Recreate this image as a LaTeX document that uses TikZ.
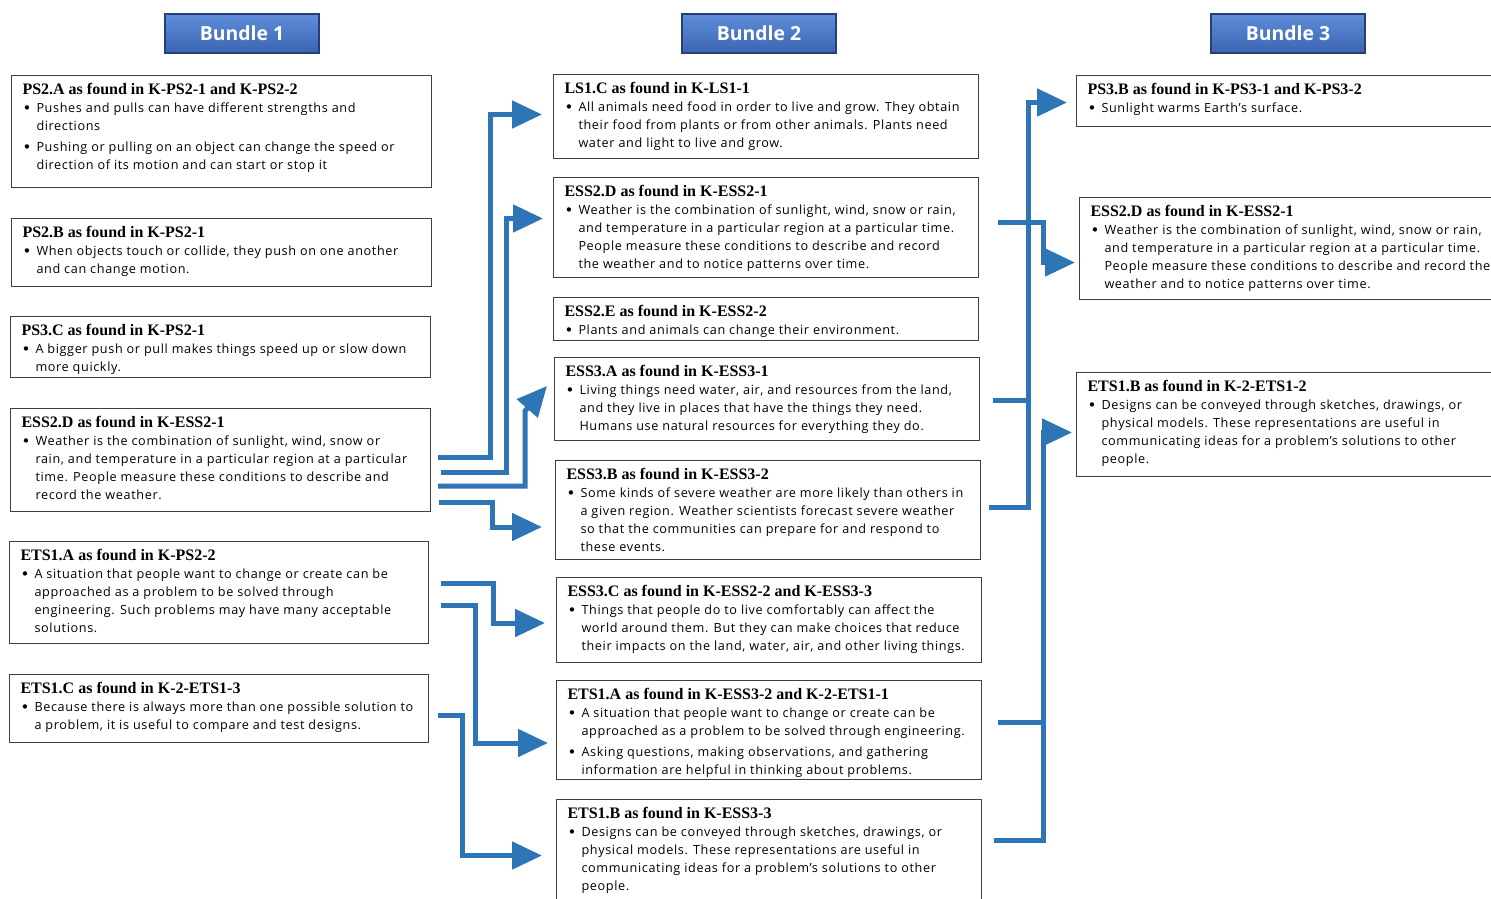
\documentclass[tikz,border=0pt]{standalone}
\usepackage{fontspec}
\newfontfamily\bodyfont[LetterSpace=5]{Open Sans}
\newfontfamily\bundlefont{Open Sans}
\newfontfamily\headfont{Liberation Serif}
\newfontfamily\bulfont{DejaVu Sans}
\usetikzlibrary{arrows.meta}
\usetikzlibrary{calc}
\definecolor{arrowblue}{RGB}{46,117,182}
\definecolor{bundletop}{RGB}{96,142,218}
\definecolor{bundlebot}{RGB}{58,100,178}
\definecolor{bundleedge}{RGB}{38,64,118}

% one box: heading, then bullet lines that never wrap
\newcommand{\bhead}[1]{\noindent\rlap{\headfont\bfseries\fontsize{16}{18}\selectfont #1}\par}
\newcommand{\bfirst}[1]{\noindent\makebox[14pt][l]{\bulfont\fontsize{15}{15}\selectfont\raisebox{-0.8pt}{•}}\rlap{#1}\par}
\newcommand{\bnext}[1]{\noindent\hspace*{14pt}\rlap{#1}\par}
\newcommand{\cell}[3]{\parbox[t][\dimexpr#2pt-16pt\relax][t]{\dimexpr#1pt-22pt\relax}{\bodyfont\fontsize{12.65}{18}\selectfont\parskip=0pt #3}}

\begin{document}
\begin{tikzpicture}[x=1pt,y=-1pt,
	box/.style={draw=black!75, line width=1pt, anchor=north west, inner xsep=11pt, inner ysep=8pt},
	bundle/.style={draw=bundleedge, line width=1.5pt, top color=bundletop, bottom color=bundlebot,
		minimum width=154pt, minimum height=39pt, inner sep=0pt, text=white,
		font=\bundlefont\bfseries\fontsize{19.4}{20}\selectfont},
	flow/.style={draw=arrowblue, line width=5pt, -{Triangle[length=30pt,width=27pt]}}]
	\useasboundingbox (0,0) rectangle (1491,899);
	\clip (0,0) rectangle (1491,899);

	% headers
	\node[bundle] (hd1) at (242,33.5) {Bundle 1};
	\node[bundle] (hd2) at (759,33.5) {Bundle 2};
	\node[bundle] (hd3) at (1288,33.5) {Bundle 3};

	% bundle 1
	\node[box] (b1ps2a) at (11,75) {\cell{420}{112}{%
		\bhead{PS2.A as found in K-PS2-1 and K-PS2-2}
		\bfirst{Pushes and pulls can have different strengths and}
		\bnext{directions}
		\vspace{3pt}
		\bfirst{Pushing or pulling on an object can change the speed or}
		\bnext{direction of its motion and can start or stop it}}};
	\node[box] (b1ps2b) at (11,218) {\cell{420}{68}{%
		\bhead{PS2.B as found in K-PS2-1}
		\bfirst{When objects touch or collide, they push on one another}
		\bnext{and can change motion.}}};
	\node[box] (b1ps3c) at (10,316) {\cell{420}{61}{%
		\bhead{PS3.C as found in K-PS2-1}
		\bfirst{A bigger push or pull makes things speed up or slow down}
		\bnext{more quickly.}}};
	\node[box] (b1ess2d) at (10,408) {\cell{420}{103}{%
		\bhead{ESS2.D as found in K-ESS2-1}
		\bfirst{Weather is the combination of sunlight, wind, snow or}
		\bnext{rain, and temperature in a particular region at a particular}
		\bnext{time. People measure these conditions to describe and}
		\bnext{record the weather.}}};
	\node[box] (b1ets1a) at (9,541) {\cell{419}{102}{%
		\bhead{ETS1.A as found in K-PS2-2}
		\bfirst{A situation that people want to change or create can be}
		\bnext{approached as a problem to be solved through}
		\bnext{engineering. Such problems may have many acceptable}
		\bnext{solutions.}}};
	\node[box] (b1ets1c) at (9,674) {\cell{419}{68}{%
		\bhead{ETS1.C as found in K-2-ETS1-3}
		\bfirst{Because there is always more than one possible solution to}
		\bnext{a problem, it is useful to compare and test designs.}}};

	% bundle 2
	\node[box] (b2ls1c) at (553,74) {\cell{425}{84}{%
		\bhead{LS1.C as found in K-LS1-1}
		\bfirst{All animals need food in order to live and grow. They obtain}
		\bnext{their food from plants or from other animals. Plants need}
		\bnext{water and light to live and grow.}}};
	\node[box] (b2ess2d) at (553,177) {\cell{425}{100}{%
		\bhead{ESS2.D as found in K-ESS2-1}
		\bfirst{Weather is the combination of sunlight, wind, snow or rain,}
		\bnext{and temperature in a particular region at a particular time.}
		\bnext{People measure these conditions to describe and record}
		\bnext{the weather and to notice patterns over time.}}};
	\node[box] (b2ess2e) at (553,297) {\cell{425}{43}{%
		\bhead{ESS2.E as found in K-ESS2-2}
		\bfirst{Plants and animals can change their environment.}}};
	\node[box] (b2ess3a) at (554,357) {\cell{425}{83}{%
		\bhead{ESS3.A as found in K-ESS3-1}
		\bfirst{Living things need water, air, and resources from the land,}
		\bnext{and they live in places that have the things they need.}
		\bnext{Humans use natural resources for everything they do.}}};
	\node[box] (b2ess3b) at (555,460) {\cell{425}{99}{%
		\bhead{ESS3.B as found in K-ESS3-2}
		\bfirst{Some kinds of severe weather are more likely than others in}
		\bnext{a given region. Weather scientists forecast severe weather}
		\bnext{so that the communities can prepare for and respond to}
		\bnext{these events.}}};
	\node[box] (b2ess3c) at (556,577) {\cell{425}{85}{%
		\bhead{ESS3.C as found in K-ESS2-2 and K-ESS3-3}
		\bfirst{Things that people do to live comfortably can affect the}
		\bnext{world around them. But they can make choices that reduce}
		\bnext{their impacts on the land, water, air, and other living things.}}};
	\node[box] (b2ets1a) at (556,680) {\cell{425}{99}{%
		\bhead{ETS1.A as found in K-ESS3-2 and K-2-ETS1-1}
		\bfirst{A situation that people want to change or create can be}
		\bnext{approached as a problem to be solved through engineering.}
		\vspace{3pt}
		\bfirst{Asking questions, making observations, and gathering}
		\bnext{information are helpful in thinking about problems.}}};
	\node[box] (b2ets1b) at (556,799) {\cell{425}{110}{%
		\bhead{ETS1.B as found in K-ESS3-3}
		\bfirst{Designs can be conveyed through sketches, drawings, or}
		\bnext{physical models. These representations are useful in}
		\bnext{communicating ideas for a problem’s solutions to other}
		\bnext{people.}}};

	% bundle 3
	\node[box] (b3ps3b) at (1076,75) {\cell{430}{51}{%
		\bhead{PS3.B as found in K-PS3-1 and K-PS3-2}
		\bfirst{Sunlight warms Earth’s surface.}}};
	\node[box] (b3ess2d) at (1079,197) {\cell{430}{102}{%
		\bhead{ESS2.D as found in K-ESS2-1}
		\bfirst{Weather is the combination of sunlight, wind, snow or rain,}
		\bnext{and temperature in a particular region at a particular time.}
		\bnext{People measure these conditions to describe and record the}
		\bnext{weather and to notice patterns over time.}}};
	\node[box] (b3ets1b) at (1076,372) {\cell{430}{104}{%
		\bhead{ETS1.B as found in K-2-ETS1-2}
		\bfirst{Designs can be conveyed through sketches, drawings, or}
		\bnext{physical models. These representations are useful in}
		\bnext{communicating ideas for a problem’s solutions to other}
		\bnext{people.}}};

	% bundle 1 to bundle 2
	\draw[flow] ($(b1ess2d.east)+(7,-3)$) -| ($(b2ls1c.west)+(-63,-2)$) -- ($(b2ls1c.west)+(-11,-2)$);
	\draw[flow] ($(b1ess2d.east)+(10,12)$) -| ($(b2ess2d.west)+(-47,-9)$) -- ($(b2ess2d.west)+(-10,-9)$);
	\draw[flow] ($(b1ess2d.east)+(7,26)$) -| ($(b2ess3a.west)+(-29,12)$) -- ($(b2ess3a.west)+(-7,-13)$);
	\draw[flow] ($(b1ess2d.east)+(8,42)$) -| ($(b2ess3b.west)+(-63,17)$) -- ($(b2ess3b.west)+(-13,17)$);
	\draw[flow] ($(b1ets1a.east)+(12,-9)$) -| ($(b2ess3c.west)+(-63,3)$) -- ($(b2ess3c.west)+(-11,3)$);
	\draw[flow] ($(b1ets1a.east)+(12,13)$) -| ($(b2ets1a.west)+(-81,13)$) -- ($(b2ets1a.west)+(-8,13)$);
	\draw[flow] ($(b1ets1c.east)+(9,7)$) -| ($(b2ets1b.west)+(-94,1)$) -- ($(b2ets1b.west)+(-14,1)$);

	% bundle 2 to bundle 3
	\coordinate (trunkA) at ($(b3ps3b.west)+(-48,1.5)$);
	\coordinate (trunkB) at ($(b3ets1b.west)+(-33,8)$);
	\draw[flow] ($(b2ess3b.east)+(8,-2.5)$) -| (trunkA) -- ($(b3ps3b.west)+(-9,1.5)$);
	\draw[flow, -] ($(b2ess3a.east)+(13,1.5)$) coordinate (sA) -- (sA -| trunkA);
	\draw[flow] ($(b2ess2d.east)+(19,-5)$) -| ($(b3ess2d.west)+(-36,14)$) -- ($(b3ess2d.west)+(-4,14)$);
	\draw[flow] ($(b2ets1b.east)+(12,-14)$) -| (trunkB) -- ($(b3ets1b.west)+(-4,8)$);
	\draw[flow, -] ($(b2ets1a.east)+(16,-7.5)$) coordinate (sB) -- (sB -| trunkB);
\end{tikzpicture}
\end{document}
